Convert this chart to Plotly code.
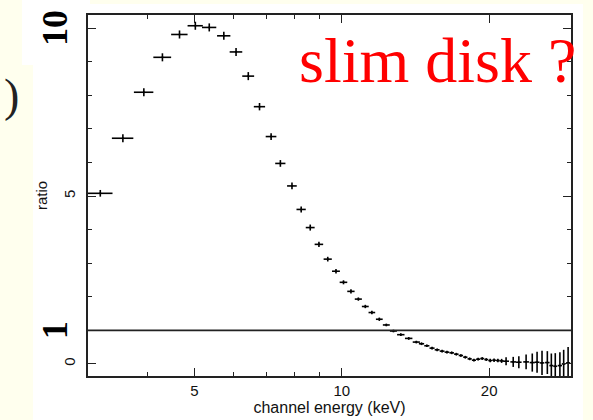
import plotly.graph_objects as go

# ---- data ----
energy_keV = [3.21, 3.57, 3.94, 4.30, 4.66, 5.02, 5.36, 5.74, 6.08, 6.44,
              6.79, 7.17, 7.49, 7.91, 8.26, 8.62, 8.98, 9.36, 9.73, 10.08,
              10.44, 10.81, 11.17, 11.52, 11.93, 12.33, 12.75, 13.20, 13.70, 14.20,
              14.55, 14.92, 15.29, 15.66, 16.03, 16.40, 16.77, 17.14, 17.51, 17.88,
              18.25, 18.62, 18.99, 19.36, 19.73, 20.10, 20.47, 20.84, 21.21,
              21.66, 22.40, 23.00, 23.80, 24.50, 25.06, 25.65, 26.30, 26.80, 27.30,
              27.90, 28.40, 29.00]
ratio = [5.08, 6.72, 8.09, 9.13, 9.81, 10.07, 10.02, 9.77, 9.29, 8.57,
         7.66, 6.77, 5.97, 5.30, 4.60, 4.06, 3.56, 3.12, 2.76, 2.43,
         2.16, 1.93, 1.71, 1.53, 1.33, 1.16, 0.98, 0.87, 0.76, 0.65,
         0.60, 0.54, 0.47, 0.42, 0.38, 0.35, 0.33, 0.29, 0.25, 0.20,
         0.15, 0.11, 0.14, 0.16, 0.13, 0.10, 0.11, 0.10, 0.09,
         0.08, 0.06, 0.05, 0.06, 0.04, 0.05, 0.03, 0.04, -0.05, -0.07,
         -0.05, 0.00, 0.03]
energy_err = [0.19, 0.18, 0.18, 0.18, 0.18, 0.18, 0.18, 0.18, 0.18, 0.18,
              0.18, 0.18, 0.18, 0.18, 0.18, 0.18, 0.18, 0.18, 0.18, 0.18,
              0.18, 0.18, 0.18, 0.18, 0.19, 0.20, 0.21, 0.23, 0.24, 0.24,
              0.18, 0.18, 0.18, 0.18, 0.18, 0.18, 0.18, 0.18, 0.18, 0.18,
              0.18, 0.18, 0.18, 0.18, 0.18, 0.18, 0.18, 0.18, 0.20,
              0.30, 0.30, 0.30, 0.32, 0.30, 0.28, 0.28, 0.28, 0.25, 0.25,
              0.28, 0.25, 0.28]
ratio_err = [0.10, 0.12, 0.12, 0.12, 0.12, 0.12, 0.12, 0.12, 0.12, 0.12,
             0.11, 0.10, 0.10, 0.10, 0.09, 0.09, 0.08, 0.07, 0.07, 0.06,
             0.06, 0.05, 0.05, 0.05, 0.05, 0.04, 0.04, 0.04, 0.04, 0.04,
             0.04, 0.04, 0.04, 0.04, 0.04, 0.04, 0.04, 0.04, 0.04, 0.04,
             0.04, 0.04, 0.04, 0.04, 0.04, 0.05, 0.05, 0.05, 0.06,
             0.12, 0.15, 0.18, 0.22, 0.27, 0.31, 0.36, 0.34, 0.36, 0.39,
             0.40, 0.42, 0.47]

x_major_ticks = [5, 10, 20]
x_major_labels = ["5", "10", "20"]
x_minor_ticks = [3, 4, 6, 7, 8, 9, 30]
y_major_ticks = [0, 5, 10]
y_major_labels = ["0", "5", ""]
y_minor_ticks = [1, 2, 3, 4, 6, 7, 8, 9]
reference_ratio = 1

SANS = "Liberation Sans, Arial, sans-serif"
SERIF = "Liberation Serif, Times New Roman, serif"

fig = go.Figure()
fig.add_trace(go.Scatter(
    x=energy_keV, y=ratio, mode="markers",
    marker=dict(size=2, color="black"),
    error_x=dict(type="data", array=energy_err, color="black", thickness=1.6, width=0),
    error_y=dict(type="data", array=ratio_err, color="black", thickness=1.6, width=0),
    showlegend=False, hoverinfo="skip",
))

# background: pale slide colour with the white pasted picture
fig.add_shape(type="rect", xref="paper", yref="paper",
              x0=(33 - 88) / 483, x1=(583 - 88) / 483,
              y0=(376 - 420) / 361, y1=(376 - 4) / 361,
              fillcolor="white", line_width=0, layer="below")
fig.add_shape(type="rect", xref="paper", yref="paper",
              x0=(22 - 88) / 483, x1=(90 - 88) / 483,
              y0=(376 - 65) / 361, y1=(376 - 0) / 361,
              fillcolor="white", line_width=0, layer="below")

fig.add_shape(type="line", xref="paper", yref="y", x0=0, x1=1,
              y0=reference_ratio, y1=reference_ratio,
              line=dict(color="#222", width=1.6))

fig.update_xaxes(
    type="log", range=[0.4814, 1.4683], automargin=False,
    showline=True, linecolor="#222", linewidth=1.6, mirror="ticks",
    ticks="inside", ticklen=8, tickwidth=1.4, tickcolor="#222",
    tickmode="array", tickvals=x_major_ticks, ticktext=x_major_labels,
    minor=dict(tickmode="array", tickvals=x_minor_ticks, ticks="inside",
               ticklen=4, tickwidth=1.4, tickcolor="#222", showgrid=False),
    showgrid=False, zeroline=False,
    tickfont=dict(family=SANS, size=15, color="#111"),
    ticklabelstandoff=0,
    title=dict(text="channel energy (keV)", font=dict(family=SANS, size=16, color="#111"),
               standoff=0),
)
fig.update_yaxes(
    range=[-0.36, 10.39], automargin=False,
    showline=True, linecolor="#222", linewidth=1.6, mirror="ticks",
    ticks="inside", ticklen=8, tickwidth=1.4, tickcolor="#222",
    tickmode="array", tickvals=y_major_ticks, ticktext=y_major_labels,
    minor=dict(tickmode="array", tickvals=y_minor_ticks, ticks="inside",
               ticklen=4, tickwidth=1.4, tickcolor="#222", showgrid=False),
    showgrid=False, zeroline=False, tickangle=-90,
    tickfont=dict(family=SANS, size=15, color="#111"),
    ticklabelstandoff=5,
    title=dict(text="ratio", font=dict(family=SANS, size=15, color="#111"), standoff=10),
)

fig.add_annotation(text="10", xref="paper", yref="y", x=(55 - 88) / 483, y=10,
                   xanchor="center", yanchor="middle",
                   showarrow=False, textangle=-90,
                   font=dict(family=SERIF, size=36, color="black", weight="bold"))
fig.add_annotation(text="1", xref="paper", yref="y", x=(55 - 88) / 483, y=reference_ratio,
                   xanchor="center", yanchor="middle",
                   showarrow=False, textangle=-90,
                   font=dict(family=SERIF, size=36, color="black", weight="bold"))
fig.add_annotation(text="slim disk ?", xref="paper", yref="paper",
                   x=(297 - 88) / 483, y=(376 - 60) / 361, xanchor="left", yanchor="middle",
                   showarrow=False,
                   font=dict(family=SERIF, size=64, color="#FF0000"))
fig.add_annotation(text=")", xref="paper", yref="paper",
                   x=(11 - 88) / 483, y=(376 - 96) / 361, xanchor="center", yanchor="middle",
                   showarrow=False,
                   font=dict(family=SERIF, size=46, color="#222"))

fig.update_layout(
    width=593, height=420,
    margin=dict(l=88, r=22, t=15, b=44),
    paper_bgcolor="#FFFFEE", plot_bgcolor="white",
    showlegend=False,
)

fig.write_html("out.html")
